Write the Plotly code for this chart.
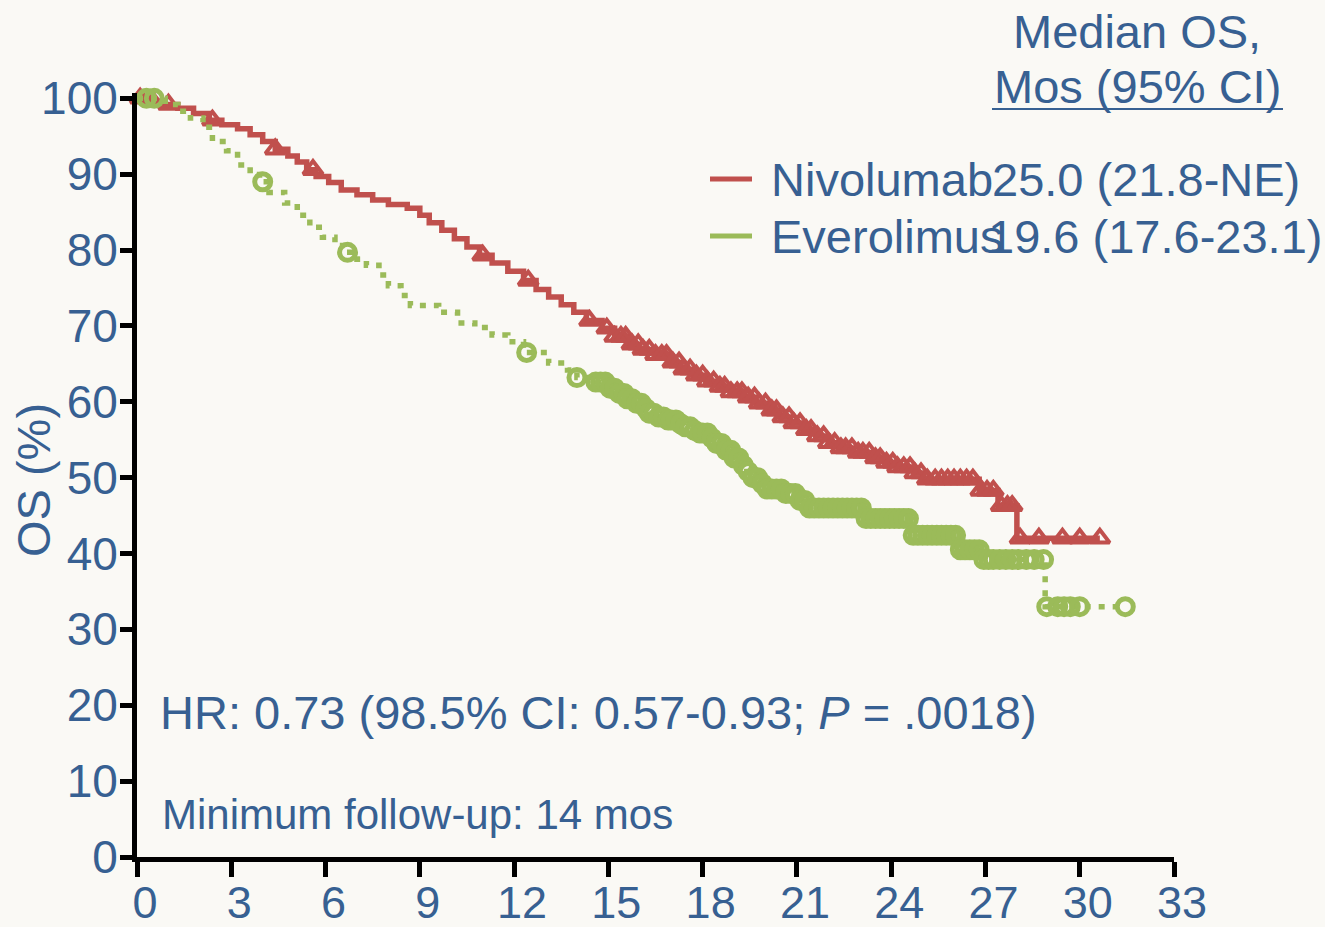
import numpy as np
import plotly.graph_objects as go

# Kaplan-Meier step points: time of each drop (months) and % alive after it
nivo_t = [0, 0.5, 0.9, 1.3, 1.8, 2.3, 2.7, 3.2, 3.6, 4.0, 4.4, 4.8, 5.1, 5.4, 5.7,
          6.1, 6.5, 7.0, 7.5, 8.0, 8.6, 9.0, 9.3, 9.7, 10.1, 10.5, 10.9, 11.3, 11.8,
          12.3, 12.7, 13.1, 13.5, 13.9, 14.3, 14.8, 15.2, 15.6, 16.0, 16.5, 16.9,
          17.3, 17.7, 18.1, 18.5, 18.9, 19.3, 19.7, 20.1, 20.4, 20.8, 21.2, 21.6,
          22.0, 22.4, 22.8, 23.4, 23.8, 24.2, 24.7, 25.0, 26.8, 27.4, 28.0]
nivo_s = [100, 99.6, 99.2, 98.7, 98.0, 97.1, 96.5, 96.0, 95.2, 94.3, 93.3, 92.4, 91.6,
          90.6, 89.7, 88.9, 87.9, 87.3, 86.6, 86.0, 85.5, 84.6, 83.6, 82.6, 81.5, 80.4,
          79.3, 78.3, 77.2, 76.0, 74.8, 73.8, 72.8, 71.8, 70.7, 69.7, 68.6, 67.6, 66.9,
          66.2, 65.2, 64.3, 63.5, 62.7, 62.0, 61.3, 60.6, 59.8, 58.9, 58.0, 57.2, 56.3,
          55.5, 54.6, 53.9, 53.3, 52.6, 52.0, 51.4, 50.6, 49.8, 48.3, 46.3, 42.0]
nivo_cens = [0.1, 0.5, 1.0, 2.4, 4.4, 5.6, 11.0, 12.45, 14.4, 14.95, 15.2, 15.4, 15.55,
             15.75, 15.95, 16.1, 16.3, 16.5, 16.7, 16.85, 17.05, 17.25, 17.4, 17.6,
             17.8, 18.0, 18.15, 18.35, 18.55, 18.7, 18.9, 19.1, 19.25, 19.45, 19.65,
             19.8, 20.0, 20.2, 20.35, 20.55, 20.75, 20.9, 21.1, 21.3, 21.45, 21.65,
             21.85, 22.0, 22.2, 22.4, 22.55, 22.75, 22.95, 23.1, 23.3, 23.5, 23.65,
             23.85, 24.05, 24.2, 24.4, 24.6, 24.75, 24.95, 25.15, 25.4, 25.6, 25.8,
             26.0, 26.2, 26.4, 26.6, 26.85, 27.05, 27.25, 27.5, 27.7, 27.85, 28.1,
             28.7, 29.45, 30.0, 30.64]

evero_t = [0, 0.9, 1.3, 1.7, 2.1, 2.4, 2.85, 3.2, 3.6, 3.9, 4.2, 4.7, 5.1, 5.5, 5.9,
           6.3, 6.6, 7.0, 7.3, 7.7, 8.0, 8.4, 8.7, 9.6, 10.2, 10.75, 11.3, 11.8, 12.3,
           13.1, 13.7, 14.0, 14.6, 15.0, 15.3, 15.6, 15.8, 16.1, 16.3, 16.6, 16.9,
           17.2, 17.4, 17.7, 17.9, 18.2, 18.45, 18.7, 19.0, 19.2, 19.4, 19.6, 19.8,
           20.0, 20.6, 21.0, 21.4, 23.2, 24.7, 26.2, 26.9, 28.9]
evero_s = [100, 99.2, 98.3, 97.4, 96.2, 94.3, 93.1, 91.2, 90.5, 89.0, 87.6, 86.2, 84.6,
           83.0, 81.7, 80.6, 79.7, 78.8, 78.0, 76.7, 75.3, 74.0, 72.7, 71.8, 70.4, 69.8,
           68.8, 67.9, 66.5, 65.1, 64.2, 63.2, 62.6, 61.8, 61.1, 60.4, 59.8, 59.1, 58.5,
           58.0, 57.6, 57.1, 56.7, 56.2, 55.9, 55.2, 54.5, 53.6, 52.6, 51.6, 50.8, 50.0,
           49.2, 48.5, 47.9, 47.0, 46.0, 44.6, 42.4, 40.5, 39.2, 33.0]
evero_cens = [0.3, 0.55, 4.0, 6.7, 12.4, 14.0, 14.6, 14.75, 14.9, 15.05, 15.2, 15.35,
              15.5, 15.6, 15.75, 15.9, 16.05, 16.2, 16.3, 16.45, 16.6, 16.75, 16.9,
              17.0, 17.15, 17.3, 17.45, 17.6, 17.75, 17.9, 18.0, 18.15, 18.3, 18.45,
              18.6, 18.75, 18.9, 19.0, 19.15, 19.3, 19.45, 19.6, 19.75, 19.9, 20.05,
              20.2, 20.35, 20.5, 20.65, 20.8, 20.95, 21.1, 21.25, 21.4, 21.55, 21.7,
              21.85, 22.0, 22.15, 22.3, 22.45, 22.6, 22.75, 22.9, 23.05, 23.2, 23.35,
              23.5, 23.65, 23.8, 23.95, 24.1, 24.25, 24.4, 24.55, 24.7, 24.85, 25.0,
              25.15, 25.3, 25.45, 25.6, 25.75, 25.9, 26.05, 26.2, 26.35, 26.5, 26.65,
              26.8, 26.95, 27.1, 27.25, 27.45, 27.65, 27.85, 28.05, 28.3, 28.55, 28.85,
              28.95, 29.3, 29.5, 29.7, 30.0, 31.45]

arm_names = ["Nivolumab", "Everolimus"]
arm_medians = ["25.0 (21.8-NE)", "19.6 (17.6-23.1)"]
x_ticks = [0, 3, 6, 9, 12, 15, 18, 21, 24, 27, 30, 33]
y_ticks = [0, 10, 20, 30, 40, 50, 60, 70, 80, 90, 100]

RED = "#C0504D"
GREEN = "#9BBB59"
BLUE = "#376092"
BG = "#FAF9F5"
FONT = "Liberation Sans, Arial, sans-serif"


def step_value(times, surv, t):
    idx = np.searchsorted(np.asarray(times), t, side="right") - 1
    return np.asarray(surv)[idx]


fig = go.Figure()

arms = [
    (nivo_t, nivo_s, nivo_cens, RED, "solid", "triangle-up-open", 17, 4),
    (evero_t, evero_s, evero_cens, GREEN, "6px,8px", "circle-open", 16, 5),
]
for t, s, cens, col, dash, sym, msize, mlw in arms:
    end = max(cens)
    fig.add_trace(go.Scatter(
        x=list(t) + [end], y=list(s) + [s[-1]], mode="lines",
        line=dict(color=col, width=5.5, shape="hv", dash=dash),
        hoverinfo="skip", showlegend=False, cliponaxis=False))
    fig.add_trace(go.Scatter(
        x=cens, y=[step_value(t, s, c) for c in cens], mode="markers",
        marker=dict(symbol=sym, size=msize, color=col, line=dict(color=col, width=mlw)),
        hoverinfo="skip", showlegend=False, cliponaxis=False))

X0, X1, Y0, Y1 = 137, 1174, 857, 93


def px(x):
    return (x - X0) / (X1 - X0)


def py(y):
    return (Y0 - y) / (Y0 - Y1)


annotations = []
shapes = []


def text(s, x, y, size=47, xanchor="left", angle=0):
    annotations.append(dict(
        text=s, x=px(x), y=py(y), xref="paper", yref="paper", showarrow=False,
        xanchor=xanchor, yanchor="middle", textangle=angle,
        font=dict(family=FONT, size=size, color=BLUE)))


text("Median OS,", 1137, 31, xanchor="center")
text("Mos (95% CI)", 1137, 87, xanchor="center")
shapes.append(dict(type="line", xref="paper", yref="paper",
                   x0=px(992), x1=px(1283), y0=py(109), y1=py(109),
                   line=dict(color=BLUE, width=2)))

for i, (name, med, col) in enumerate(zip(arm_names, arm_medians, [RED, GREEN])):
    yy = 179 + i * 57
    shapes.append(dict(type="line", xref="paper", yref="paper",
                       x0=px(710), x1=px(752), y0=py(yy), y1=py(yy),
                       line=dict(color=col, width=5)))
    text(name, 769, yy + 1)
    text(med, 990 if i == 0 else 986, yy + 1)

text("HR: 0.73 (98.5% CI: 0.57-0.93; <i>P</i> = .0018)", 158, 712)
text("Minimum follow-up: 14 mos", 160, 814, size=42)
text("OS (%)", 33, 480, xanchor="center", angle=-90)

axis_common = dict(
    showline=True, linecolor="black", linewidth=5, ticks="outside",
    tickcolor="black", tickwidth=5, showgrid=False, zeroline=False,
    automargin=False,
)

fig.update_layout(
    template="none",
    width=1325, height=927, autosize=False,
    margin=dict(l=X0, r=1325 - X1, t=Y1, b=927 - Y0, pad=0),
    paper_bgcolor=BG, plot_bgcolor=BG,
    xaxis=dict(range=[0, 33], tickvals=x_ticks, ticklen=15,
               ticklabelstandoff=-13, ticklabelshift=8,
               tickfont=dict(family=FONT, size=45, color=BLUE), **axis_common),
    yaxis=dict(range=[0, 100.7], tickvals=y_ticks, ticklen=12,
               ticklabelstandoff=-7,
               tickfont=dict(family=FONT, size=46, color=BLUE), **axis_common),
    annotations=annotations, shapes=shapes,
)

fig.write_html("out.html")
